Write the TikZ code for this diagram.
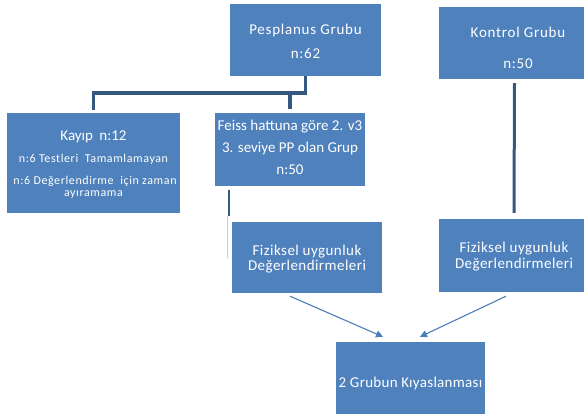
\documentclass[tikz,border=0pt]{standalone}
\usepackage{fontspec}
\setmainfont{Carlito}
\newfontfamily\lsfive{Carlito}[LetterSpace=5]
\newfontfamily\lsthree{Carlito}[LetterSpace=3]
\newfontfamily\lstwo{Carlito}[LetterSpace=2]
\usetikzlibrary{arrows.meta}
\definecolor{boxblue}{HTML}{4F81BD}
\definecolor{bracketblue}{HTML}{34587F}
\definecolor{arrowblue}{HTML}{4A7EBB}
\definecolor{faintline}{HTML}{C5CFDA}
\tikzset{
  box/.style={fill=boxblue, draw=none, inner sep=0pt},
  lbl/.style={text=white, anchor=base, inner sep=0pt},
  big/.style={font=\fontsize{15}{18}\selectfont},
  bigwide/.style={font=\fontsize{15}{18}\lsfive},
  bigmid/.style={font=\fontsize{15}{18}\lsthree},
  bignarrow/.style={font=\fontsize{15}{18}\lstwo},
  small/.style={font=\fontsize{12}{14}\lsfive},
  bracketline/.style={draw=bracketblue, line width=3.5pt},
  flowarrow/.style={draw=arrowblue, line width=1.1pt, -{Triangle[length=7pt,width=7pt]}}
}
\begin{document}
\begin{tikzpicture}[x=1pt,y=-1pt]
\useasboundingbox (0,0) rectangle (584,418);
% boxes
\node[box, minimum width=151pt, minimum height=72pt] (pes) at (305.5,40) {};
\node[box, minimum width=151pt, minimum height=72pt] (kon) at (514.5,43) {};
\node[box, minimum width=173pt, minimum height=100pt] (kayip) at (93.5,163) {};
\node[box, minimum width=150pt, minimum height=73pt] (feiss) at (290,149.5) {};
\node[box, minimum width=150pt, minimum height=71pt] (fizL) at (307,257.5) {};
\node[box, minimum width=150pt, minimum height=73pt] (fizR) at (514,255.5) {};
\node[box, minimum width=149pt, minimum height=72pt] (grp) at (410.5,378) {};
% texts
\node[lbl, bigwide] (pes1) at (305.5,34) {Pesplanus Grubu};
\node[lbl, bigwide] (pes2) at (305.5,58) {n:62};
\node[lbl, bigwide] (kon1) at (518,37) {Kontrol Grubu};
\node[lbl, bigwide] (kon2) at (518,68) {n:50};
\node[lbl, big] (kay1) at (93.5,140) {Kayıp\hspace{3pt} n:12};
\node[lbl, small] (kay2) at (93.5,162) {n:6 Testleri\ \ Tamamlamayan};
\node[lbl, small] (kay3) at (95,184) {n:6 Değerlendirme\ \ için zaman};
\node[lbl, small] (kay4) at (93.5,196) {ayıramama};
\node[lbl, big] (fei1) at (290,130) {Feiss hattuna göre 2. v3};
\node[lbl, big] (fei2) at (290,152) {3. seviye PP olan Grup};
\node[lbl, big] (fei3) at (290,174) {n:50};
\node[lbl, bigmid] (fl1) at (307,255) {Fiziksel uygunluk};
\node[lbl, bigmid] (fl2) at (307,270) {Değerlendirmeleri};
\node[lbl, bigmid] (fr1) at (514,252) {Fiziksel uygunluk};
\node[lbl, bigmid] (fr2) at (514,268) {Değerlendirmeleri};
\node[lbl, bignarrow] (grp1) at (410.5,387) {2 Grubun Kıyaslanması};
% bracket connector
\path (pes.south) ++(0,17) coordinate (barR);
\draw[bracketline] (pes.south) -- (barR) -| ([yshift=3pt]kayip.north);
\draw[bracketline] (barR -| feiss.north) -- ([yshift=4pt]feiss.north);
% line below Feiss
\coordinate (fA) at ([xshift=-61pt, yshift=-4pt]feiss.south);
\coordinate (fB) at ([xshift=-61pt, yshift=-30pt]feiss.south);
\coordinate (fC) at ([xshift=-63pt, yshift=-72pt]feiss.south);
\draw[bracketblue, line width=2.5pt] (fA) -- (fB);
\draw[faintline, line width=1pt] ([xshift=-2pt]fB) -- (fC);
% Kontrol line
\draw[bracketblue, line width=3pt] ([yshift=-4pt]kon.south) -- ([yshift=6pt]fizR.north);
% arrows
\draw[flowarrow] ([xshift=-17pt, yshift=-3pt]fizL.south) -- ([xshift=-27.5pt, yshift=5pt]grp.north);
\draw[flowarrow] ([xshift=-8pt, yshift=-4pt]fizR.south) -- ([xshift=9.5pt, yshift=5pt]grp.north);
\end{tikzpicture}
\end{document}
